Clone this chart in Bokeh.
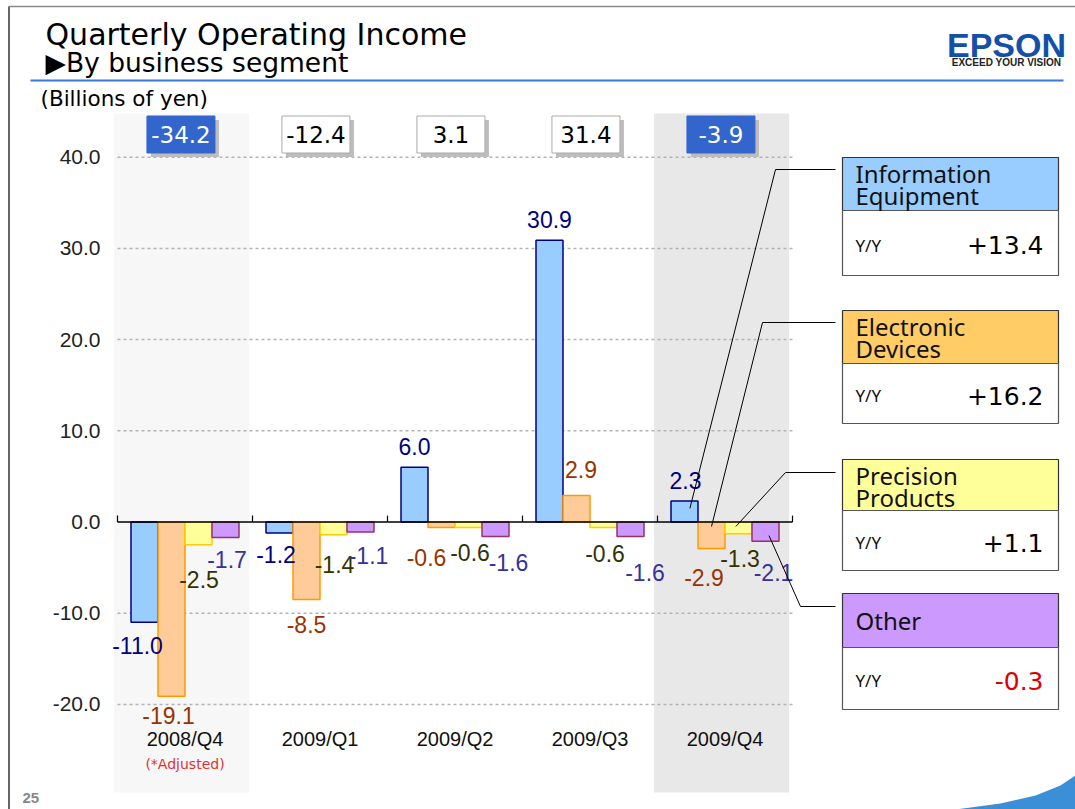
from bokeh.plotting import figure
from bokeh.models import Range1d
from bokeh.core.properties import value
from bokeh.embed import file_html
from bokeh.resources import INLINE

# ---------------- data ----------------
quarters = ["2008/Q4", "2009/Q1", "2009/Q2", "2009/Q3", "2009/Q4"]
segments = ["Information Equipment", "Electronic Devices", "Precision Products", "Other"]
info_equipment = [-11.0, -1.2, 6.0, 30.9, 2.3]
electronic_devices = [-19.1, -8.5, -0.6, 2.9, -2.9]
precision_products = [-2.5, -1.4, -0.6, -0.6, -1.3]
other = [-1.7, -1.1, -1.6, -1.6, -2.1]
totals = [-34.2, -12.4, 3.1, 31.4, -3.9]
highlight = [True, False, False, False, True]
yoy_values = ["+13.4", "+16.2", "+1.1", "-0.3"]
y_ticks = [-20, -10, 0, 10, 20, 30, 40]

series = [info_equipment, electronic_devices, precision_products, other]

# ---------------- styles ----------------
bar_fill = ["#99ccff", "#ffcc99", "#ffff99", "#cc99ff"]
bar_line = ["#000080", "#ff9900", "#ffcc00", "#993366"]
label_color = ["#000080", "#993300", "#333300", "#333399"]
head_fill = ["#99ccff", "#ffcc66", "#ffff99", "#cc99ff"]
head_lines = [["Information", "Equipment"], ["Electronic", "Devices"],
              ["Precision", "Products"], ["Other"]]
yoy_color = ["#000000", "#000000", "#000000", "#dd0000"]
# label offsets in screen pixels (dx, dy) per segment / quarter
lab_dx = [[-7, -3.5, 0, 0, 1], [-3, 0, -15, 4.5, -7.5],
          [0.5, 1, 1.5, 1.5, 1.5], [1.5, 8, 13, 14.5, 8]]
lab_dy = [[23, 22, -21, -21, -21], [19, 25, 30, -26, 29],
          [35, 30, 25, 26, 25], [22, 23, 26, 36, 31]]

SANS = value("Liberation Sans")
NOTO = value("Noto Sans")
DJV = value("DejaVu Sans")

# slide-pixel -> data helpers for the layout
X0, XU = 117.0, 135.0
Y0, YU = 521.5, 9.12
def X(px):
    return (px - X0) / XU
def Y(py):
    return (Y0 - py) / YU

W, H = 1075, 809
p = figure(width=W, height=H, output_backend="svg", toolbar_location=None,
           x_range=Range1d(X(0), X(W)), y_range=Range1d(Y(H), Y(0)),
           x_axis_type=None, y_axis_type=None, min_border=0)
p.grid.visible = False
p.outline_line_color = None
p.background_fill_color = "white"
p.border_fill_color = "white"

nq = len(quarters)

# ---------------- highlighted column backgrounds ----------------
bg_cols = ["#f7f7f7", "#e8e8e8"]
hi_idx = [i for i, h in enumerate(highlight) if h]
p.quad(left=[i - 0.025 for i in hi_idx], right=[i + 0.975 for i in hi_idx],
       top=[Y(113)] * len(hi_idx), bottom=[Y(792)] * len(hi_idx),
       fill_color=bg_cols[:len(hi_idx)], line_color=None)

# ---------------- grid lines ----------------
grid_vals = [t for t in y_ticks if t != 0]
p.segment(x0=[0] * len(grid_vals), x1=[nq] * len(grid_vals), y0=grid_vals, y1=grid_vals,
          line_color="#b3b3b3", line_width=1.5, line_dash="3 3")

# y tick labels
p.text(x=[X(100)] * len(y_ticks), y=y_ticks, text=[f"{t:.1f}" for t in y_ticks],
       text_align="right", text_baseline="middle", text_font=SANS,
       text_font_size="21px", text_color="#222222")

# ---------------- bars ----------------
for s, vals in enumerate(series):
    xs = [q + 0.5 + (s - 1.5) * 0.2 for q in range(nq)]
    p.vbar(x=xs, top=vals, bottom=0, width=0.2, fill_color=bar_fill[s],
           line_color=bar_line[s], line_width=1.5)

# zero axis line + group ticks
p.segment(x0=[0], x1=[nq], y0=[0], y1=[0], line_color="black", line_width=1.5)
p.segment(x0=list(range(nq + 1)), x1=list(range(nq + 1)), y0=[0] * (nq + 1),
          y1=[0.7] * (nq + 1), line_color="black", line_width=1.2)

# value labels
for s, vals in enumerate(series):
    xs = [q + 0.5 + (s - 1.5) * 0.2 for q in range(nq)]
    p.text(x=xs, y=vals, text=[f"{v:.1f}" for v in vals],
           x_offset=lab_dx[s], y_offset=lab_dy[s],
           text_align="center", text_baseline="middle", text_font=SANS,
           text_font_size="23px", text_color=label_color[s])

# category labels
p.text(x=[q + 0.5 for q in range(nq)], y=[Y(738)] * nq, text=quarters,
       text_align="center", text_baseline="middle", text_font=SANS,
       text_font_size="20px", text_color="#111111")
p.text(x=[0.5], y=[Y(763)], text=["(*Adjusted)"], text_align="center",
       text_baseline="middle", text_font=DJV, text_font_size="14px",
       text_color="#dd3333")

# ---------------- totals boxes ----------------
tx = [q + 0.5 - 0.03 for q in range(nq)]
ty = Y(134)
p.rect(x=[t + 4 / XU for t in tx], y=[ty - 4 / YU] * nq, width=68, height=37,
       width_units="screen", height_units="screen", fill_color="#bdbdbd", line_color=None)
p.rect(x=tx, y=[ty] * nq, width=68, height=37, width_units="screen", height_units="screen",
       fill_color=["#3366cc" if h else "white" for h in highlight],
       line_color=["#3366cc" if h else "#aaaaaa" for h in highlight], line_width=1)
p.text(x=tx, y=[ty] * nq, text=[f"{t:.1f}" for t in totals], text_align="center",
       text_baseline="middle", text_font=DJV, text_font_size="23px",
       text_color=["white" if h else "black" for h in highlight])

# ---------------- legend boxes ----------------
tops = [157, 310, 459, 593]
divs = [210, 363, 510, 647]
bots = [275, 423, 570, 709]
LX0, LX1 = 842, 1058
p.quad(left=[X(LX0)] * 4, right=[X(LX1)] * 4, top=[Y(t) for t in tops],
       bottom=[Y(d) for d in divs], fill_color=head_fill, line_color="#333333", line_width=1.2)
p.quad(left=[X(LX0)] * 4, right=[X(LX1)] * 4, top=[Y(d) for d in divs],
       bottom=[Y(b) for b in bots], fill_color="white", line_color="#555555", line_width=1.2)
for i in range(4):
    lines = head_lines[i]
    if len(lines) == 2:
        ys = [Y(tops[i] + 16), Y(tops[i] + 38)]
    else:
        ys = [Y((tops[i] + divs[i]) / 2)]
    p.text(x=[X(855)] * len(lines), y=ys, text=lines, text_align="left",
           text_baseline="middle", text_font=NOTO, text_font_size="24px",
           text_color="#111111")
    mid = Y((divs[i] + bots[i]) / 2 + 2)
    p.text(x=[X(855)], y=[mid], text=["Y/Y"], text_align="left", text_baseline="middle",
           text_font=NOTO, text_font_size="17px", text_color="#111111")
    p.text(x=[X(1043)], y=[mid], text=[yoy_values[i]], text_align="right",
           text_baseline="middle", text_font=DJV, text_font_size="25px",
           text_color=yoy_color[i])

# leader lines from legend to 2009/Q4 bars
elbows = [(775, 169), (762, 322), (785, 472), (800, 606)]
end_dx = [0.04, 0.0, -0.02, 0.026]
end_frac = [0.65, 0.17, 0.38, 0.71]
q_last = nq - 1
lxs, lys = [], []
for s in range(4):
    bx = q_last + 0.5 + (s - 1.5) * 0.2 + end_dx[s]
    by = series[s][q_last] * end_frac[s]
    ex, ey = elbows[s]
    lxs.append([X(835), X(ex), bx])
    lys.append([Y(ey), Y(ey), by])
p.multi_line(xs=lxs, ys=lys, line_color="black", line_width=1)

# ---------------- slide decorations ----------------
p.text(x=[X(45)], y=[Y(34)], text=["Quarterly Operating Income"], text_align="left",
       text_baseline="middle", text_font=DJV, text_font_size="30px", text_color="black")
p.text(x=[X(45)], y=[Y(62)], text=["\u25b6By business segment"], text_align="left",
       text_baseline="middle", text_font=DJV, text_font_size="26.5px", text_color="black")
p.segment(x0=[X(30)], x1=[X(1063)], y0=[Y(80)], y1=[Y(80)], line_color="#3a78d8", line_width=2)
p.text(x=[X(40)], y=[Y(98)], text=["(Billions of yen)"], text_align="left",
       text_baseline="middle", text_font=DJV, text_font_size="21.5px", text_color="black")

# logo
p.text(x=[X(1006)], y=[Y(44)], text=["EPSON"], text_align="center", text_baseline="middle",
       text_font=SANS, text_font_style="bold", text_font_size="34px", text_color="#1550a8")
p.text(x=[X(1006)], y=[Y(62)], text=["EXCEED YOUR VISION"], text_align="center",
       text_baseline="middle", text_font=SANS, text_font_style="bold",
       text_font_size="10px", text_color="#222222")

# border lines
p.segment(x0=[X(8.5)], x1=[X(8.5)], y0=[Y(6)], y1=[Y(H)], line_color="#333333", line_width=1.5)
p.segment(x0=[X(8)], x1=[X(W)], y0=[Y(6)], y1=[Y(6)], line_color="#888888", line_width=1.5)

# page number
p.text(x=[X(22)], y=[Y(797)], text=["25"], text_align="left", text_baseline="middle",
       text_font=SANS, text_font_style="bold", text_font_size="15px", text_color="#888888")

# corner swoosh
p.patch(x=[X(955), X(1000), X(1035), X(1060), X(W), X(W)],
        y=[Y(H), Y(803), Y(795), Y(785), Y(775), Y(H)],
        fill_color="#3b8fd6", line_color=None)

open("out.html", "w").write(file_html(p, INLINE))
